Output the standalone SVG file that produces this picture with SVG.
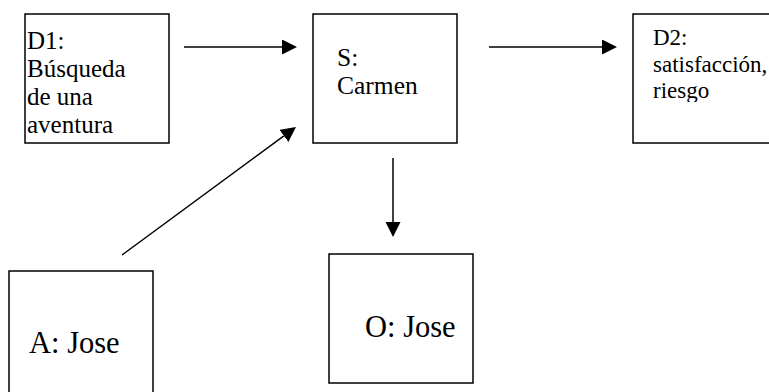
<svg xmlns="http://www.w3.org/2000/svg" width="769" height="392" viewBox="0 0 769 392">
<style>
.box{fill:#fff;stroke:#000;stroke-width:1.5}
.t{font-family:'Liberation Serif','Times New Roman',serif;fill:#000}
.c{stroke:#000;stroke-width:1.5;fill:none}
</style>
<defs>
<marker id="ah" markerUnits="userSpaceOnUse" markerWidth="16" markerHeight="16" refX="0" refY="7.5" orient="auto">
<path d="M0,0 L15,7.5 L0,15 z" fill="#000"/>
</marker>
<clipPath id="d2clip"><rect x="633" y="14" width="140" height="88"/></clipPath>
</defs>
<rect width="769" height="392" fill="#fff"/>
<g id="connectors">
<line class="c" x1="184" y1="47" x2="282" y2="47" marker-end="url(#ah)"/>
<line class="c" x1="489" y1="47" x2="602" y2="47" marker-end="url(#ah)"/>
<line class="c" x1="393" y1="158" x2="393" y2="222" marker-end="url(#ah)"/>
<line class="c" x1="122" y1="255" x2="283.9" y2="135.9" marker-end="url(#ah)"/>
</g>
<g id="d1">
<rect class="box" x="25" y="14" width="144" height="129"/>
<text class="t" font-size="25"><tspan x="27" y="49">D1:</tspan><tspan x="27" y="77">Búsqueda</tspan><tspan x="27" y="105">de una</tspan><tspan x="27" y="133">aventura</tspan></text>
</g>
<g id="s">
<rect class="box" x="313" y="14" width="144" height="129"/>
<text class="t" font-size="25.5"><tspan x="337" y="65.5">S:</tspan><tspan x="337" y="94">Carmen</tspan></text>
</g>
<g id="d2">
<rect class="box" x="633" y="14" width="150" height="129"/>
<text class="t" font-size="23" clip-path="url(#d2clip)"><tspan x="653" y="45">D2:</tspan><tspan x="653" y="71.5">satisfacción,</tspan><tspan x="653" y="98">riesgo</tspan></text>
</g>
<g id="a">
<rect class="box" x="9" y="271" width="144" height="130"/>
<text class="t" font-size="30.5" x="29" y="353">A: Jose</text>
</g>
<g id="o">
<rect class="box" x="329" y="254" width="144" height="129"/>
<text class="t" font-size="30.5" x="365" y="337">O: Jose</text>
</g>
</svg>
